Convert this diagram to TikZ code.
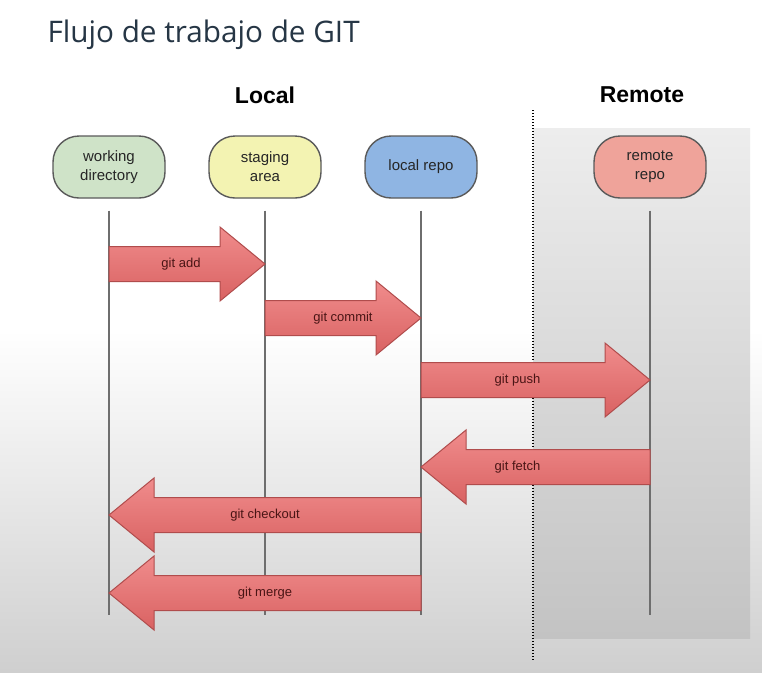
\documentclass[tikz,border=0pt]{standalone}
\usepackage{fontspec}
\setmainfont{Liberation Sans}
\newfontfamily\titlefont{Open Sans}
\usetikzlibrary{calc}
\definecolor{titlecol}{HTML}{263645}
\definecolor{bgbot}{HTML}{CFCFCF}
\definecolor{pantop}{HTML}{EDEDED}
\definecolor{panbot}{HTML}{C3C3C3}
\definecolor{wdfill}{HTML}{CFE3C8}
\definecolor{safill}{HTML}{F3F3B2}
\definecolor{lrfill}{HTML}{8FB5E3}
\definecolor{rrfill}{HTML}{EFA39A}
\definecolor{nodeline}{HTML}{5A5A5A}
\definecolor{lifecol}{HTML}{6E6E6E}
\definecolor{arrtop}{HTML}{F08C8C}
\definecolor{arrbot}{HTML}{D96262}
\definecolor{arrline}{HTML}{B04C4C}
\definecolor{arrtext}{HTML}{4A1515}
\tikzset{
  pill/.style={draw=nodeline, line width=1.4pt, rounded corners=26pt,
    minimum width=112pt, minimum height=62pt, align=center, inner sep=2pt,
    font=\fontsize{15}{19}\selectfont, text=black!85},
  lifeline/.style={draw=lifecol, line width=1.4pt},
  fatarrow/.style={draw=arrline, line width=1pt, top color=arrtop, bottom color=arrbot},
  arrlabel/.style={font=\fontsize{13}{15}\selectfont, text=arrtext},
  region/.style={font=\bfseries\fontsize{23}{26}\selectfont, text=black}
}
% #1 from, #2 to, #3 label, #4 label x-shift
\newcommand\fatarrow[4]{%
  \draw[fatarrow] let \p1=#1, \p2=#2, \n1={sign(\x2-\x1)} in
    (\x1,\y1+17.5pt) -- (\x2-\n1*45pt,\y1+17.5pt) -- (\x2-\n1*45pt,\y1+37pt)
    -- (\x2,\y1) -- (\x2-\n1*45pt,\y1-37pt) -- (\x2-\n1*45pt,\y1-17.5pt)
    -- (\x1,\y1-17.5pt) -- cycle;
  \node[arrlabel, xshift=#4] at ($#1!0.5!#2$) {#3};}
\begin{document}
\begin{tikzpicture}[x=1pt,y=-1pt]
\useasboundingbox (0,0) rectangle (762,672);
% background
\fill[white] (0,0) rectangle (762,672);
\shade[top color=white, bottom color=bgbot] (0,330) rectangle (762,672);
\shade[top color=pantop, bottom color=panbot] (533,128) rectangle (750,638);
\draw[dash pattern=on 1.2pt off 1.8pt, line width=1.2pt] (533,110) -- (533,660);
% titles
\node[anchor=west, font=\titlefont\fontsize{29.7}{33}\selectfont, text=titlecol] (title) at (44,35) {Flujo de trabajo de GIT};
\node[region] (local) at (265,95) {Local};
\node[region] (remote) at (642,95) {Remote};
% nodes
\node[pill, fill=wdfill] (wd) at (109,167) {working\\directory};
\node[pill, fill=safill] (sa) at (265,167) {staging\\area};
\node[pill, fill=lrfill] (lr) at (421,167) {local repo};
\node[pill, fill=rrfill] (rr) at (650,167) {remote\\repo};
% rows
\coordinate (bot) at (0,615);
\coordinate (r1) at (0,264);
\coordinate (r2) at (0,318);
\coordinate (r3) at (0,380);
\coordinate (r4) at (0,467);
\coordinate (r5) at (0,515);
\coordinate (r6) at (0,593);
% lifelines
\foreach \n in {wd,sa,lr,rr}{
  \draw[lifeline] ($(\n.south)+(0,12)$) -- (\n |- bot);
}
% arrows
\fatarrow{(wd |- r1)}{(sa |- r1)}{git add}{-6pt}
\fatarrow{(sa |- r2)}{(lr |- r2)}{git commit}{0pt}
\fatarrow{(lr |- r3)}{(rr |- r3)}{git push}{-18pt}
\fatarrow{(rr |- r4)}{(lr |- r4)}{git fetch}{-18pt}
\fatarrow{(lr |- r5)}{(wd |- r5)}{git checkout}{0pt}
\fatarrow{(lr |- r6)}{(wd |- r6)}{git merge}{0pt}
\end{tikzpicture}
\end{document}
